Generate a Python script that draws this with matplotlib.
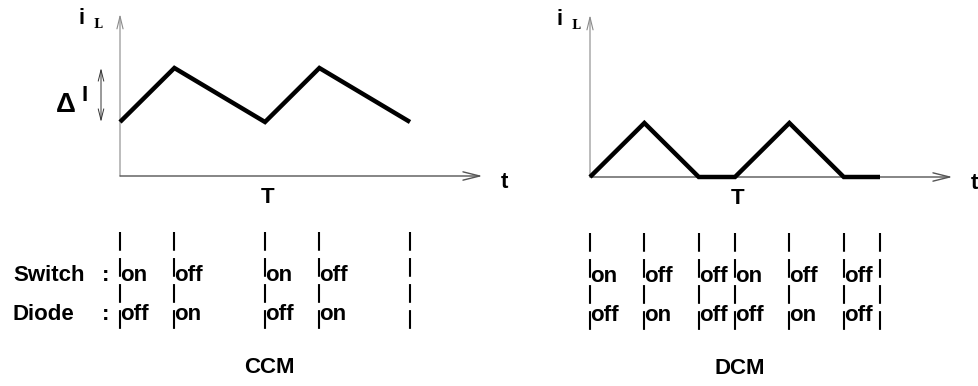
import matplotlib
matplotlib.use('Agg')
import matplotlib.pyplot as plt

plt.rcParams['font.family'] = ['Liberation Sans', 'DejaVu Sans']

# inductor current, time in units of T
ccm_t = [0, 0.375, 1, 1.375, 2]
ccm_i = [1, 2, 1, 2, 1]
dcm_t = [0, 0.375, 0.75, 1, 1.375, 1.75, 2]
dcm_i = [0, 1, 0, 0, 1, 0, 0]

# switch / diode states between the marks
ccm_switch = ['on', 'off', 'on', 'off']
ccm_diode = ['off', 'on', 'off', 'on']
dcm_switch = ['on', 'off', 'off', 'on', 'off', 'off']
dcm_diode = ['off', 'on', 'off', 'off', 'on', 'off']

PX_T = 145.0   # pixels per period
PX_I = 54.0    # pixels per current unit
FS = 16


def set_frame(ax, x0, y0, left, width):
    # origin of the drawing at pixel (x0, y0)
    ax.set_xlim((left - x0) / PX_T, (left + width - x0) / PX_T)
    ax.set_ylim((y0 - 386) / PX_I, y0 / PX_I)
    ax.axis('off')


def draw_panel(ax, t, i, switch, diode, name, il_x, row_labels=False):
    # axes with open arrow heads
    ax.annotate('', xy=(0, 3.0), xytext=(0, 0),
                arrowprops=dict(arrowstyle='->,head_length=0.9,head_width=0.22',
                                color='#8a8a8a', lw=0.8, shrinkA=0, shrinkB=0,
                                mutation_scale=10))
    ax.annotate('', xy=(2.5, 0), xytext=(0, 0),
                arrowprops=dict(arrowstyle='->,head_length=1.2,head_width=0.3',
                                color='#555555', lw=1.0, shrinkA=0, shrinkB=0,
                                mutation_scale=10))
    ax.plot(t, i, color='black', lw=3.2, solid_joinstyle='miter',
            solid_capstyle='butt', zorder=3)

    ax.text(il_x, 2.92, 'i', fontsize=FS, fontweight='bold', ha='center', va='center')
    ax.text(il_x + 0.11, 2.80, 'L', fontsize=9, fontweight='bold',
            family=['DejaVu Serif'], ha='center', va='center')
    ax.text(2.648, -0.12, 't', fontsize=FS, fontweight='bold', ha='center', va='center')
    ax.text(1.02, -0.40, 'T', fontsize=FS, fontweight='bold', ha='center', va='center')

    row_sw = -1.94
    row_di = -2.66
    for e in t:
        ax.plot([e, e], [-1.04, -2.93], color='black', lw=1.5,
                linestyle=(0, (9, 3.5)))
    for k, s in enumerate(switch):
        ax.annotate(s, xy=(t[k], row_sw), xytext=(0, 0), textcoords='offset points',
                    fontsize=FS, fontweight='bold', ha='left', va='baseline')
    for k, s in enumerate(diode):
        ax.annotate(s, xy=(t[k], row_di), xytext=(0, 0), textcoords='offset points',
                    fontsize=FS, fontweight='bold', ha='left', va='baseline')

    if row_labels:
        ax.text(-0.738, row_sw, 'Switch', fontsize=FS, fontweight='bold',
                ha='left', va='baseline')
        ax.text(-0.738, row_di, 'Diode', fontsize=FS, fontweight='bold',
                ha='left', va='baseline')
        ax.text(-0.097, row_sw, ':', fontsize=FS, fontweight='bold',
                ha='center', va='baseline')
        ax.text(-0.097, row_di, ':', fontsize=FS, fontweight='bold',
                ha='center', va='baseline')

    ax.text(1.03, -3.55, name, fontsize=FS, fontweight='bold', ha='center', va='center')


fig = plt.figure(figsize=(9.79, 3.86), dpi=100)
ax1 = fig.add_axes([0, 0, 490 / 979, 1])
ax2 = fig.add_axes([490 / 979, 0, 489 / 979, 1])
set_frame(ax1, 120, 176, 0, 490)
set_frame(ax2, 590, 177, 490, 489)

draw_panel(ax1, ccm_t, ccm_i, ccm_switch, ccm_diode, 'CCM', -0.266, row_labels=True)
draw_panel(ax2, dcm_t, dcm_i, dcm_switch, dcm_diode, 'DCM', -0.21)

# ripple marker on the CCM plot
ax1.annotate('', xy=(-0.131, 2), xytext=(-0.131, 1),
             arrowprops=dict(arrowstyle='<->,head_length=0.8,head_width=0.2',
                             color='#333333', lw=0.7, shrinkA=0, shrinkB=0,
                             mutation_scale=10))
ax1.text(-0.376, 1.32, '\u0394', fontsize=20, fontweight='bold', ha='center', va='center')
ax1.text(-0.245, 1.49, 'I', fontsize=FS, fontweight='bold', ha='center', va='center')

fig.savefig('out.png', dpi=100)
